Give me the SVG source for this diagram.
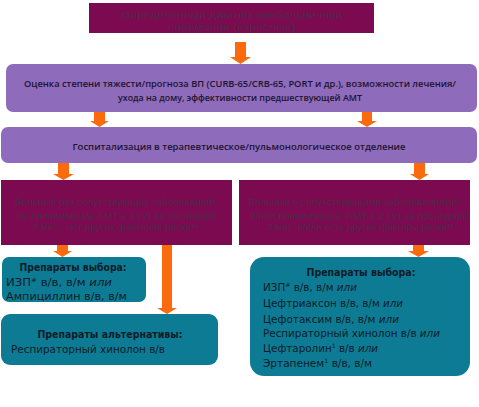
<svg xmlns="http://www.w3.org/2000/svg" width="479" height="407" viewBox="0 0 479 407">
<style>
.maroon{fill:#7c0a50}
.purple{fill:#8f6bbb}
.teal{fill:#0c7b93}
.arr{fill:#fb6a0c}
.mt{font-family:"Liberation Sans",Arial,sans-serif;font-size:9px;fill:#4c2a47;text-anchor:middle}
.pt{font-family:"Open Sans","DejaVu Sans",sans-serif;font-size:8px;font-weight:600;fill:#1c1430;text-anchor:middle}
.tt{font-family:"DejaVu Sans",sans-serif;font-size:10px;fill:#0e1c2a}
.th{font-family:"DejaVu Sans",sans-serif;font-size:10px;font-weight:bold;fill:#0e1c2a;text-anchor:middle}
.it{font-style:italic}
</style>
<rect width="479" height="407" fill="#ffffff"/>
<g id="connectors">
<path class="arr" d="M235,42H246V57H251L240.5,64L230,57H235Z"/>
<path class="arr" d="M94,112H105V121H109L99.5,127L90,121H94Z"/>
<path class="arr" d="M362,112H372V121H377L367,127L357,121H362Z"/>
<path class="arr" d="M58,163H69V174H74L63.5,180L53,174H58Z"/>
<path class="arr" d="M414,163H425V174H429L419.5,180L410,174H414Z"/>
<path class="arr" d="M57,245H68V251H72L62.5,257L53,251H57Z"/>
<path class="arr" d="M413,245H424V251H429L418.5,257L408,251H413Z"/>
<path class="arr" d="M162,245H172V308H177L167,314L157,308H162Z"/>
</g>
<g id="n1">
<rect class="maroon" x="89" y="3" width="285" height="30"/>
<text class="mt" x="232" y="18" textLength="221" lengthAdjust="spacingAndGlyphs">Определенный диагноз внебольничной</text>
<text class="mt" x="232" y="30" textLength="128" lengthAdjust="spacingAndGlyphs">пневмонии (взрослые)</text>
</g>
<g id="n2">
<rect class="purple" x="6" y="64" width="471" height="48" rx="7"/>
<text class="pt" x="240" y="87" textLength="432" lengthAdjust="spacingAndGlyphs">Оценка степени тяжести/прогноза ВП (CURB-65/CRB-65, PORT и др.), возможности лечения/</text>
<text class="pt" x="240" y="101" textLength="244" lengthAdjust="spacingAndGlyphs">ухода на дому, эффективности предшествующей АМТ</text>
</g>
<g id="n3">
<rect class="purple" x="1" y="127" width="476" height="36" rx="7"/>
<text class="pt" x="239" y="150" textLength="333" lengthAdjust="spacingAndGlyphs">Госпитализация в терапевтическое/пульмонологическое отделение</text>
</g>
<g id="n4">
<rect class="maroon" x="1" y="180" width="231" height="65"/>
<text class="mt" x="117" y="205" font-size="8" textLength="204" lengthAdjust="spacingAndGlyphs">Больные без сопутствующих заболеваний*,</text>
<text class="mt" x="117" y="219" font-size="8" textLength="199" lengthAdjust="spacingAndGlyphs">не принимавшие АМТ ≥ 2 сут за последние</text>
<text class="mt" x="116" y="230" font-size="8" textLength="166" lengthAdjust="spacingAndGlyphs">3 мес., нет других факторов риска**</text>
</g>
<g id="n5">
<rect class="maroon" x="239" y="180" width="231" height="65"/>
<text class="mt" x="355" y="205" font-size="8" textLength="213" lengthAdjust="spacingAndGlyphs">Больные с сопутствующими заболеваниями*</text>
<text class="mt" x="359" y="219" font-size="8" textLength="218" lengthAdjust="spacingAndGlyphs">и/или принимавшие АМТ ≥ 2 сут за последние</text>
<text class="mt" x="361" y="230" font-size="8" textLength="187" lengthAdjust="spacingAndGlyphs">3 мес. и/или есть другие факторы риска**</text>
</g>
<g id="n6">
<rect class="teal" x="2" y="257" width="144" height="45" rx="7"/>
<text class="th" x="73" y="271" textLength="107" lengthAdjust="spacingAndGlyphs">Препараты выбора:</text>
<text class="tt" x="6" y="286" textLength="106" lengthAdjust="spacingAndGlyphs">ИЗП<tspan font-size="6" dy="-4">#</tspan><tspan dy="4"> в/в, в/м  </tspan><tspan class="it">или</tspan></text>
<text class="tt" x="6" y="300" textLength="121" lengthAdjust="spacingAndGlyphs">Ампициллин в/в, в/м</text>
</g>
<g id="n7">
<rect class="teal" x="1" y="314" width="217" height="51" rx="9"/>
<text class="th" x="110" y="338" textLength="145" lengthAdjust="spacingAndGlyphs">Препараты альтернативы:</text>
<text class="tt" x="11" y="353" textLength="154" lengthAdjust="spacingAndGlyphs">Респираторный хинолон в/в</text>
</g>
<g id="n8">
<rect class="teal" x="250" y="257" width="220" height="119" rx="14"/>
<text class="th" x="361" y="276" textLength="109" lengthAdjust="spacingAndGlyphs">Препараты выбора:</text>
<text class="tt" x="263" y="291" textLength="94" lengthAdjust="spacingAndGlyphs">ИЗП<tspan font-size="6" dy="-4">#</tspan><tspan dy="4"> в/в, в/м </tspan><tspan class="it">или</tspan></text>
<text class="tt" x="263" y="307" textLength="140" lengthAdjust="spacingAndGlyphs">Цефтриаксон в/в, в/м <tspan class="it">или</tspan></text>
<text class="tt" x="263" y="323" textLength="136" lengthAdjust="spacingAndGlyphs">Цефотаксим в/в, в/м <tspan class="it">или</tspan></text>
<text class="tt" x="263" y="337" textLength="177" lengthAdjust="spacingAndGlyphs">Респираторный хинолон в/в <tspan class="it">или</tspan></text>
<text class="tt" x="263" y="352" textLength="115" lengthAdjust="spacingAndGlyphs">Цефтаролин<tspan font-size="6" dy="-4">1</tspan><tspan dy="4"> в/в </tspan><tspan class="it">или</tspan></text>
<text class="tt" x="263" y="367" textLength="109" lengthAdjust="spacingAndGlyphs">Эртапенем<tspan font-size="6" dy="-4">1</tspan><tspan dy="4"> в/в, в/м</tspan></text>
</g>
</svg>
